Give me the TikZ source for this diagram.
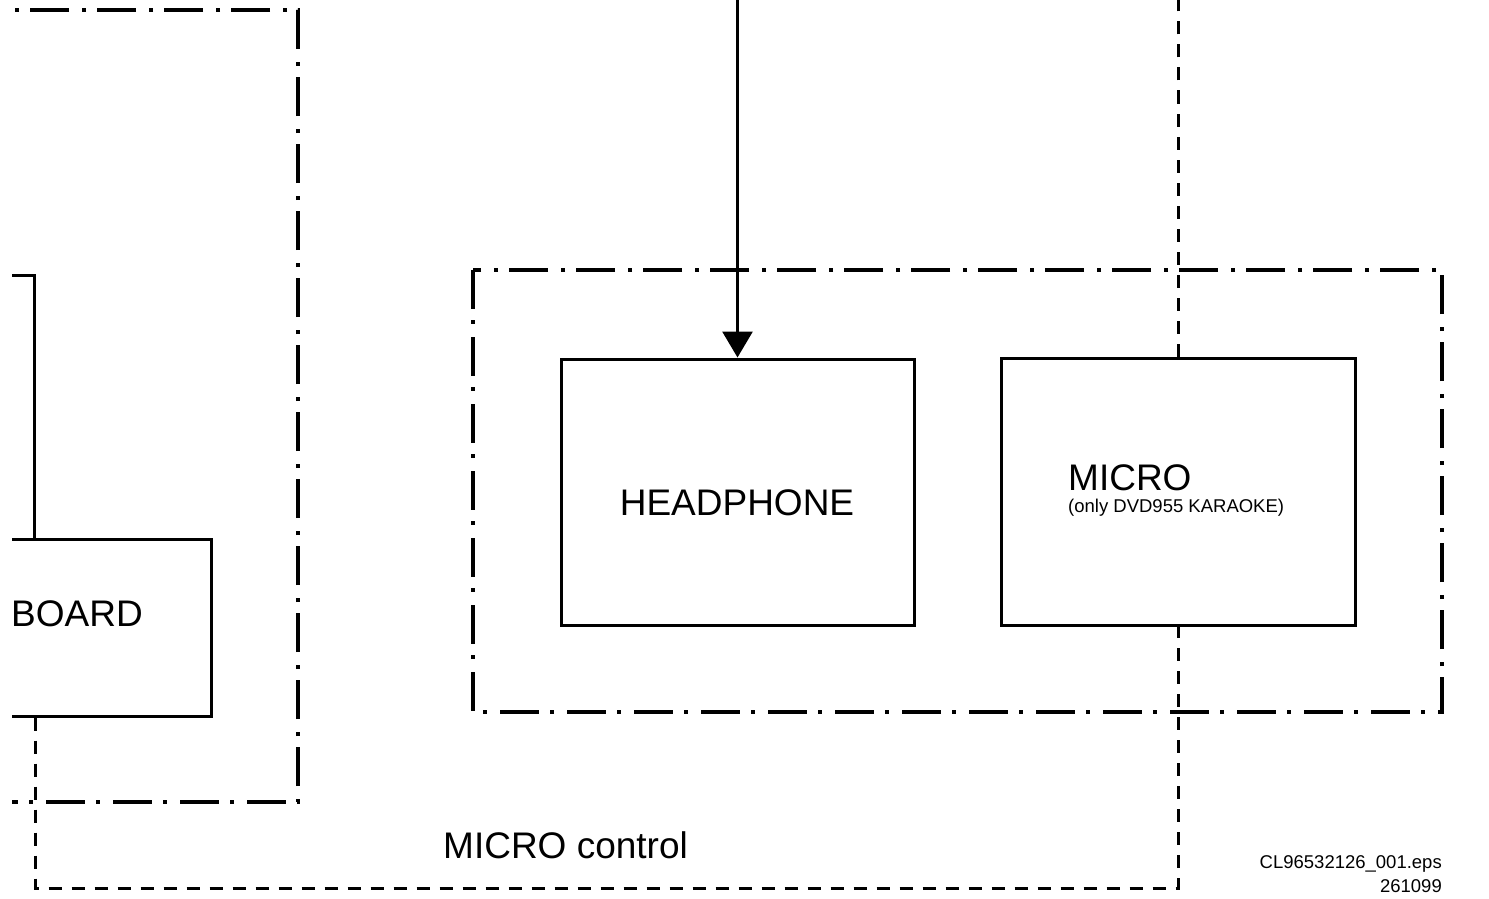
\documentclass[tikz,border=0pt]{standalone}
\usepackage{fontspec}
\setmainfont{Liberation Sans}
\usetikzlibrary{arrows.meta}
\begin{document}
\begin{tikzpicture}[x=1pt,y=-1pt,
  solidbox/.style={draw, line width=3pt, inner sep=0pt},
  dashdot/.style={line width=3.5pt, dash pattern=on 39pt off 11pt on 4pt off 13pt},
  dashline/.style={line width=3pt, dash pattern=on 13pt off 10pt},
  solidline/.style={line width=3pt},
  big/.style={font=\fontsize{37}{44}\selectfont, inner sep=0pt},
  small/.style={font=\fontsize{18.5}{21}\selectfont, inner sep=0pt},
  tiny/.style={font=\fontsize{18.5}{21}\selectfont, inner sep=0pt}]
\useasboundingbox (0,0) rectangle (1489,899);
\clip (12,-5) rectangle (1495,904);
% dash-dot boxes
\draw[dashdot] (-100,10) rectangle (298,802);
\draw[dashdot] (473,270) rectangle (1442,712);
% solid boxes
\node[solidbox, minimum width=353pt, minimum height=266pt] (headphone) at (737.5,492) {};
\node[solidbox, minimum width=354pt, minimum height=267pt] (micro) at (1178,491.5) {};
\node[solidbox, minimum width=299pt, minimum height=177pt] (board) at (61.5,627.5) {};
% texts
\node[big, anchor=base] (thead) at (737,515) {HEADPHONE};
\node[big, anchor=base west] (tmicro) at (1068,490) {MICRO};
\node[small, anchor=base west] (tonly) at (1068,512) {(only DVD955 KARAOKE)};
\node[big, anchor=base west] (tboard) at (11,626) {BOARD};
\node[big, anchor=base west] (tctrl) at (443,858) {MICRO control};
\node[tiny, anchor=base east] (tfile) at (1442,868) {CL96532126\_001.eps};
\node[tiny, anchor=base east] (tdate) at (1442,892) {261099};
% coordinates
\coordinate (dl) at (35,888);
\coordinate (top) at (1178,0);
\coordinate (arrtop) at (737.5,0);
\coordinate (lb1) at (12,275);
\coordinate (lb2) at (34.5,275);
% left partial box
\draw[solidline] (lb1) -- (lb2) -- (lb2 |- board.north);
% dashed micro control line
\draw[dashline] (board.south -| dl) -- (dl) -- (dl -| micro.south) -- (micro.south);
\draw[dashline] (micro.north) -- (top);
% arrow
\draw[solidline, -{Triangle[length=26pt,width=30pt]}] (arrtop) -- (headphone.north);
\end{tikzpicture}
\end{document}
